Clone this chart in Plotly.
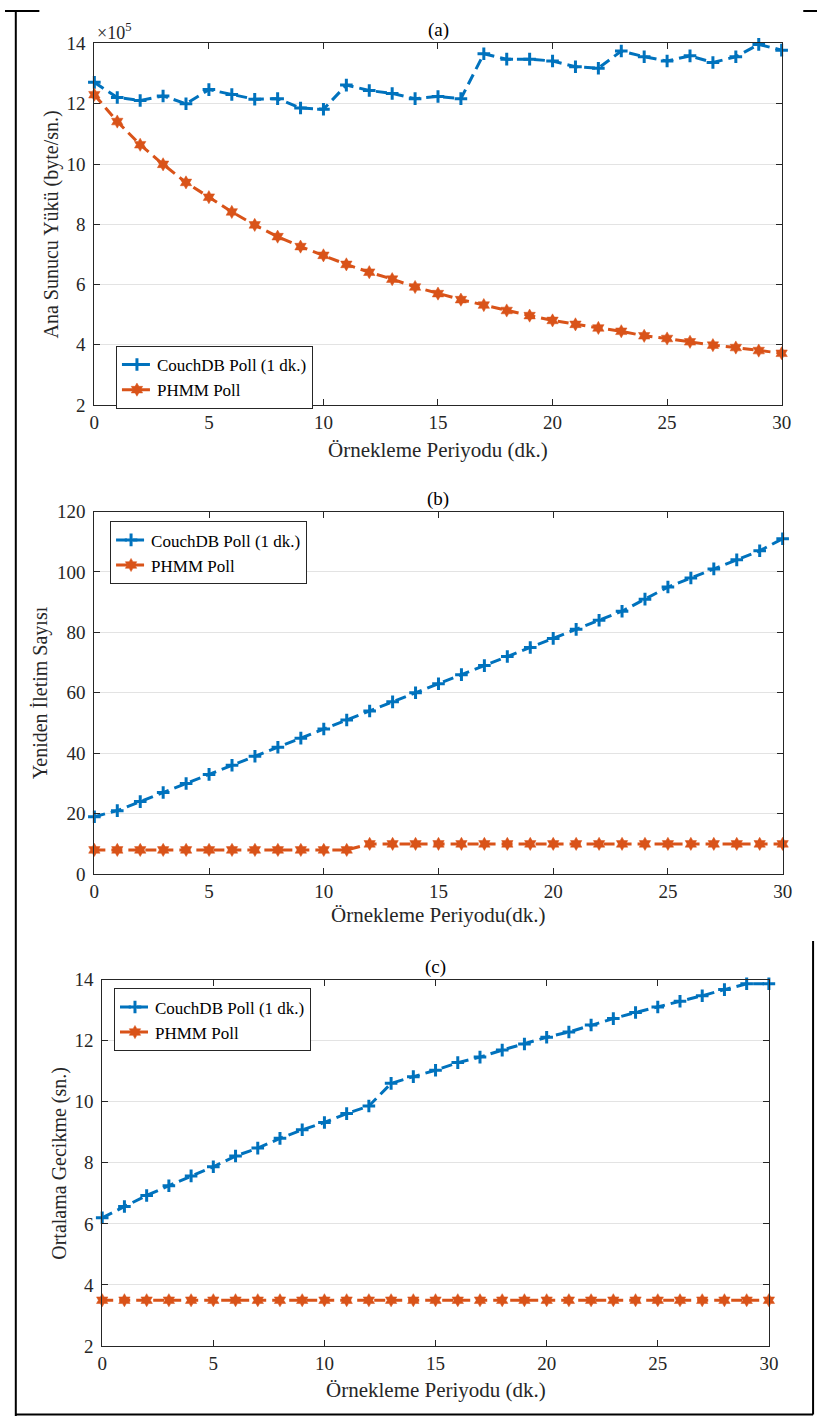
import plotly.graph_objects as go

W, H = 827, 1427

x_min = list(range(0, 31))

# Panel (a): server load (x1e5 byte/sn.)
a_couch = [12.71, 12.21, 12.11, 12.26, 12.00, 12.47, 12.31, 12.15, 12.17, 11.86, 11.82,
           12.62, 12.44, 12.34, 12.17, 12.24, 12.17, 13.66, 13.48, 13.48, 13.42, 13.23,
           13.18, 13.75, 13.56, 13.42, 13.59, 13.37, 13.56, 13.97, 13.78]
a_phmm = [12.30, 11.41, 10.64, 9.99, 9.39, 8.90, 8.41, 7.98, 7.59, 7.26, 6.97, 6.67,
          6.41, 6.18, 5.92, 5.70, 5.50, 5.32, 5.14, 4.97, 4.81, 4.68, 4.56, 4.45, 4.30,
          4.21, 4.10, 3.99, 3.91, 3.81, 3.72]

# Panel (b): retransmission count
b_couch = [19, 21, 24, 27, 30, 33, 36, 39, 42, 45, 48, 51, 54, 57, 60, 63, 66, 69, 72,
           75, 78, 81, 84, 87, 91, 95, 98, 101, 104, 107, 111]
b_phmm = [8] * 12 + [10] * 19

# Panel (c): average delay (sn.)
c_couch = [6.20, 6.57, 6.93, 7.25, 7.57, 7.87, 8.22, 8.48, 8.80, 9.08, 9.32, 9.61, 9.86,
           10.60, 10.82, 11.03, 11.28, 11.46, 11.69, 11.89, 12.11, 12.28, 12.51, 12.72,
           12.92, 13.10, 13.29, 13.47, 13.67, 13.86, 13.86]
c_phmm = [3.5] * 31

names = ["CouchDB Poll (1 dk.)", "PHMM Poll"]
titles = ["(a)", "(b)", "(c)"]
xtitles = ["Örnekleme Periyodu (dk.)", "Örnekleme Periyodu(dk.)", "Örnekleme Periyodu (dk.)"]
ytitles = ["Ana Sunucu Yükü (byte/sn.)", "Yeniden İletim Sayısı", "Ortalama Gecikme (sn.)"]
yranges = [(2, 14, 2), (0, 120, 20), (2, 14, 2)]

BLUE = "#0072BD"
ORANGE = "#D95319"
AX = "#262626"
FONT = "Liberation Serif, Times New Roman, DejaVu Serif, serif"

def px(v):
    return v / W

def py(v):
    return 1 - v / H

# plot boxes in pixels: (left, right, top, bottom)
boxes = [(91, 791, 34, 401), (91, 792, 509, 877), (99, 778, 984, 1356)]
legend_pos = [(113, 341), (107, 519), (111, 993)]
title_y = [20, 496, 971]
xtitle_y = [447, 919, 1401]
ytitle_x = [47, 36, 56]

fig = go.Figure()
data = [(a_couch, a_phmm), (b_couch, b_phmm), (c_couch, c_phmm)]
annotations = []
for i, (yc, yp) in enumerate(data):
    k = "" if i == 0 else str(i + 1)
    leg = "legend" if i == 0 else f"legend{i+1}"
    fig.add_trace(go.Scatter(
        x=x_min, y=yc, name=names[0], mode="lines+markers",
        xaxis="x" + k, yaxis="y" + k, legend=leg, cliponaxis=False,
        line=dict(color=BLUE, width=3, dash="11px,6px"),
        marker=dict(symbol="cross-thin", size=9, color=BLUE,
                    line=dict(color=BLUE, width=3)),
    ))
    fig.add_trace(go.Scatter(
        x=x_min, y=yp, name=names[1], mode="lines+markers",
        xaxis="x" + k, yaxis="y" + k, legend=leg, cliponaxis=False,
        line=dict(color=ORANGE, width=3, dash="11px,6px"),
        marker=dict(symbol="hexagram", size=10, color=ORANGE,
                    line=dict(color=ORANGE, width=0.5)),
    ))
    l, r, t, b = boxes[i]
    y0, y1, dy = yranges[i]
    fig.layout["xaxis" + k] = dict(
        domain=[px(l), px(r)], range=[0, 30], dtick=5, tick0=0,
        anchor="y" + k, showgrid=False, zeroline=False,
        showline=True, linecolor=AX, linewidth=1, mirror="allticks",
        ticks="inside", ticklen=6, tickcolor=AX, ticklabelstandoff=0,
        tickfont=dict(family=FONT, size=19, color=AX),
    )
    fig.layout["yaxis" + k] = dict(
        domain=[py(b), py(t)], range=[y0, y1], dtick=dy, tick0=y0,
        anchor="x" + k, showgrid=True, gridcolor="#e3e3e3", gridwidth=1,
        zeroline=False,
        showline=True, linecolor=AX, linewidth=1, mirror="allticks",
        ticks="inside", ticklen=6, tickcolor=AX, ticklabelstandoff=4,
        tickfont=dict(family=FONT, size=19, color=AX),
    )
    lx, ly = legend_pos[i]
    fig.layout[leg] = dict(
        x=px(lx), y=py(ly), xanchor="left", yanchor="top",
        bgcolor="white", bordercolor=AX, borderwidth=1,
        font=dict(family=FONT, size=17, color="black"),
        tracegroupgap=0, itemwidth=30,
    )
    cx = (l + r) / 2
    annotations.append(dict(text=titles[i], x=px(cx), y=py(title_y[i]), xref="paper", yref="paper",
                            xanchor="center", yanchor="middle", showarrow=False,
                            font=dict(family=FONT, size=19, color="black")))
    annotations.append(dict(text=xtitles[i], x=px(cx), y=py(xtitle_y[i]), xref="paper", yref="paper",
                            xanchor="center", yanchor="middle", showarrow=False,
                            font=dict(family=FONT, size=21, color=AX)))
    annotations.append(dict(text=ytitles[i], x=px(ytitle_x[i]), y=py((t + b) / 2), xref="paper", yref="paper",
                            xanchor="center", yanchor="middle", showarrow=False, textangle=-90,
                            font=dict(family=FONT, size=20, color=AX)))

annotations.append(dict(text="×10<sup>5</sup>", x=px(92), y=py(22), xref="paper", yref="paper",
                        xanchor="left", yanchor="middle", showarrow=False,
                        font=dict(family=FONT, size=18, color=AX)))

shapes = [
    dict(type="line", xref="paper", yref="paper", x0=px(11), x1=px(11), y0=0, y1=1,
         line=dict(color="black", width=2)),
    dict(type="line", xref="paper", yref="paper", x0=px(11), x1=px(823), y0=py(1425.5), y1=py(1425.5),
         line=dict(color="black", width=2)),
    dict(type="line", xref="paper", yref="paper", x0=px(823), x1=px(823), y0=py(945), y1=py(1425.5),
         line=dict(color="black", width=2)),
    dict(type="line", xref="paper", yref="paper", x0=0, x1=px(35), y0=py(1), y1=py(1),
         line=dict(color="black", width=2)),
    dict(type="line", xref="paper", yref="paper", x0=px(813), x1=1, y0=py(1), y1=py(1),
         line=dict(color="black", width=2)),
]

fig.update_layout(
    width=W, height=H, autosize=False,
    margin=dict(l=0, r=0, t=0, b=0),
    paper_bgcolor="white", plot_bgcolor="white",
    annotations=annotations, shapes=shapes,
    font=dict(family=FONT),
)

fig.write_html("out.html")
